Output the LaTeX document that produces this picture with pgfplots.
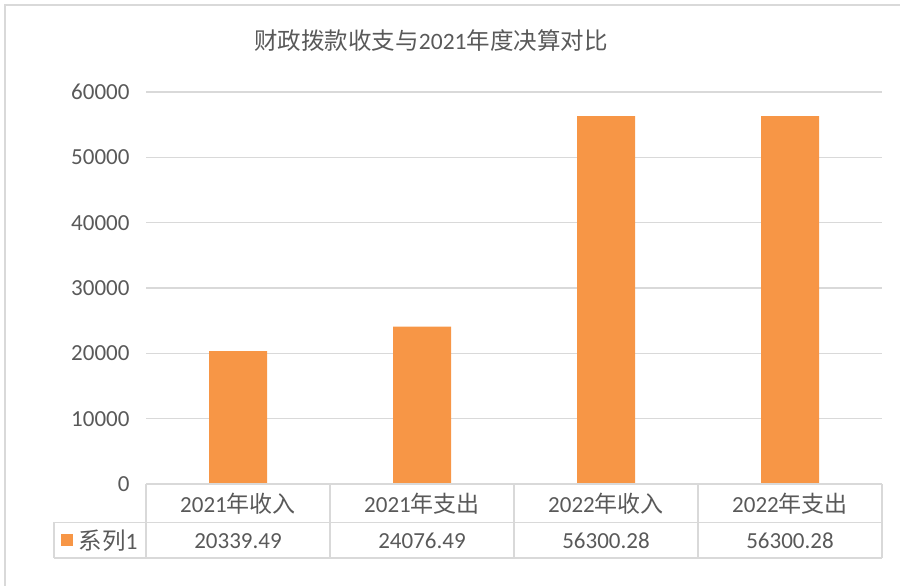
\documentclass[border=0pt]{standalone}
\usepackage{pgfplots}
\pgfplotsset{compat=1.18}
\usepackage{fontspec}
\setmainfont{Carlito}
\newfontfamily\cjk{Noto Sans CJK SC}
\definecolor{bar}{HTML}{F79646}
\definecolor{gridc}{HTML}{D9D9D9}
\definecolor{txt}{HTML}{595959}
\begin{document}
\begin{tikzpicture}[x=1pt,y=1pt]
\useasboundingbox (0,0) rectangle (900,586);
% chart border
\draw[gridc, line width=1.5pt] (5,-5) -- (5,581) -- (905,581);
% title
\node[anchor=base, text=txt, font=\fontsize{23.5}{27}\selectfont] at (431,536) {{\cjk 财政拨款收支与}2021{\cjk 年度决算对比}};
\begin{axis}[
  at={(146pt,102pt)}, anchor=south west,
  scale only axis, width=736pt, height=392pt,
  xmin=-0.5, xmax=3.5, ymin=0, ymax=60000,
  ytick={0,10000,...,60000},
  xtick={0,1,2,3},
  xticklabels={2021{\cjk 年收入},2021{\cjk 年支出},2022{\cjk 年收入},2022{\cjk 年支出}},
  scaled y ticks=false,
  /pgf/number format/assume math mode=true,
  yticklabel={\pgfmathprintnumber[fixed,1000 sep={}]{\tick}},
  ymajorgrids, major grid style={gridc, line width=1.5pt},
  axis line style={draw=none},
  major tick length=0pt,
  tick label style={text=txt, font=\fontsize{23}{27}\selectfont},
  yticklabel style={anchor=east, xshift=-13pt},
  xticklabel style={anchor=base, yshift=-28.5pt, inner sep=0pt},
  clip=false,
  legend style={at={(-0.116,-0.143)}, anchor=west, draw=none, fill=none, font=\fontsize{23.5}{27}\selectfont, text=txt, inner sep=0pt, outer sep=0pt},
  legend image code/.code={\fill[bar] (0pt,-6pt) rectangle (12pt,6pt); \path (16pt,0pt);},
  legend cell align=left,
]
\addplot[ybar, bar width=58pt, fill=bar, draw=none] coordinates {(0,20339.49) (1,24076.49) (2,56300.28) (3,56300.28)};
\addlegendentry{{\cjk 系列}1}
\addplot[draw=none, mark=none, forget plot, nodes near coords, point meta=explicit symbolic,
  nodes near coords style={anchor=base, text=txt, font=\fontsize{23}{27}\selectfont, inner sep=0pt, yshift=-65pt}]
  coordinates {(0,0)[20339.49] (1,0)[24076.49] (2,0)[56300.28] (3,0)[56300.28]};
\end{axis}
% data table lines
\begin{scope}[gridc, line width=1.5pt]
\draw (146,102) -- (882,102);
\draw (54,63.5) -- (882,63.5);
\draw (54,28) -- (882,28);
\draw (54,28) -- (54,63.5);
\foreach \x in {146,330,514,698,882} \draw (\x,28) -- (\x,102);
\end{scope}
\end{tikzpicture}
\end{document}
